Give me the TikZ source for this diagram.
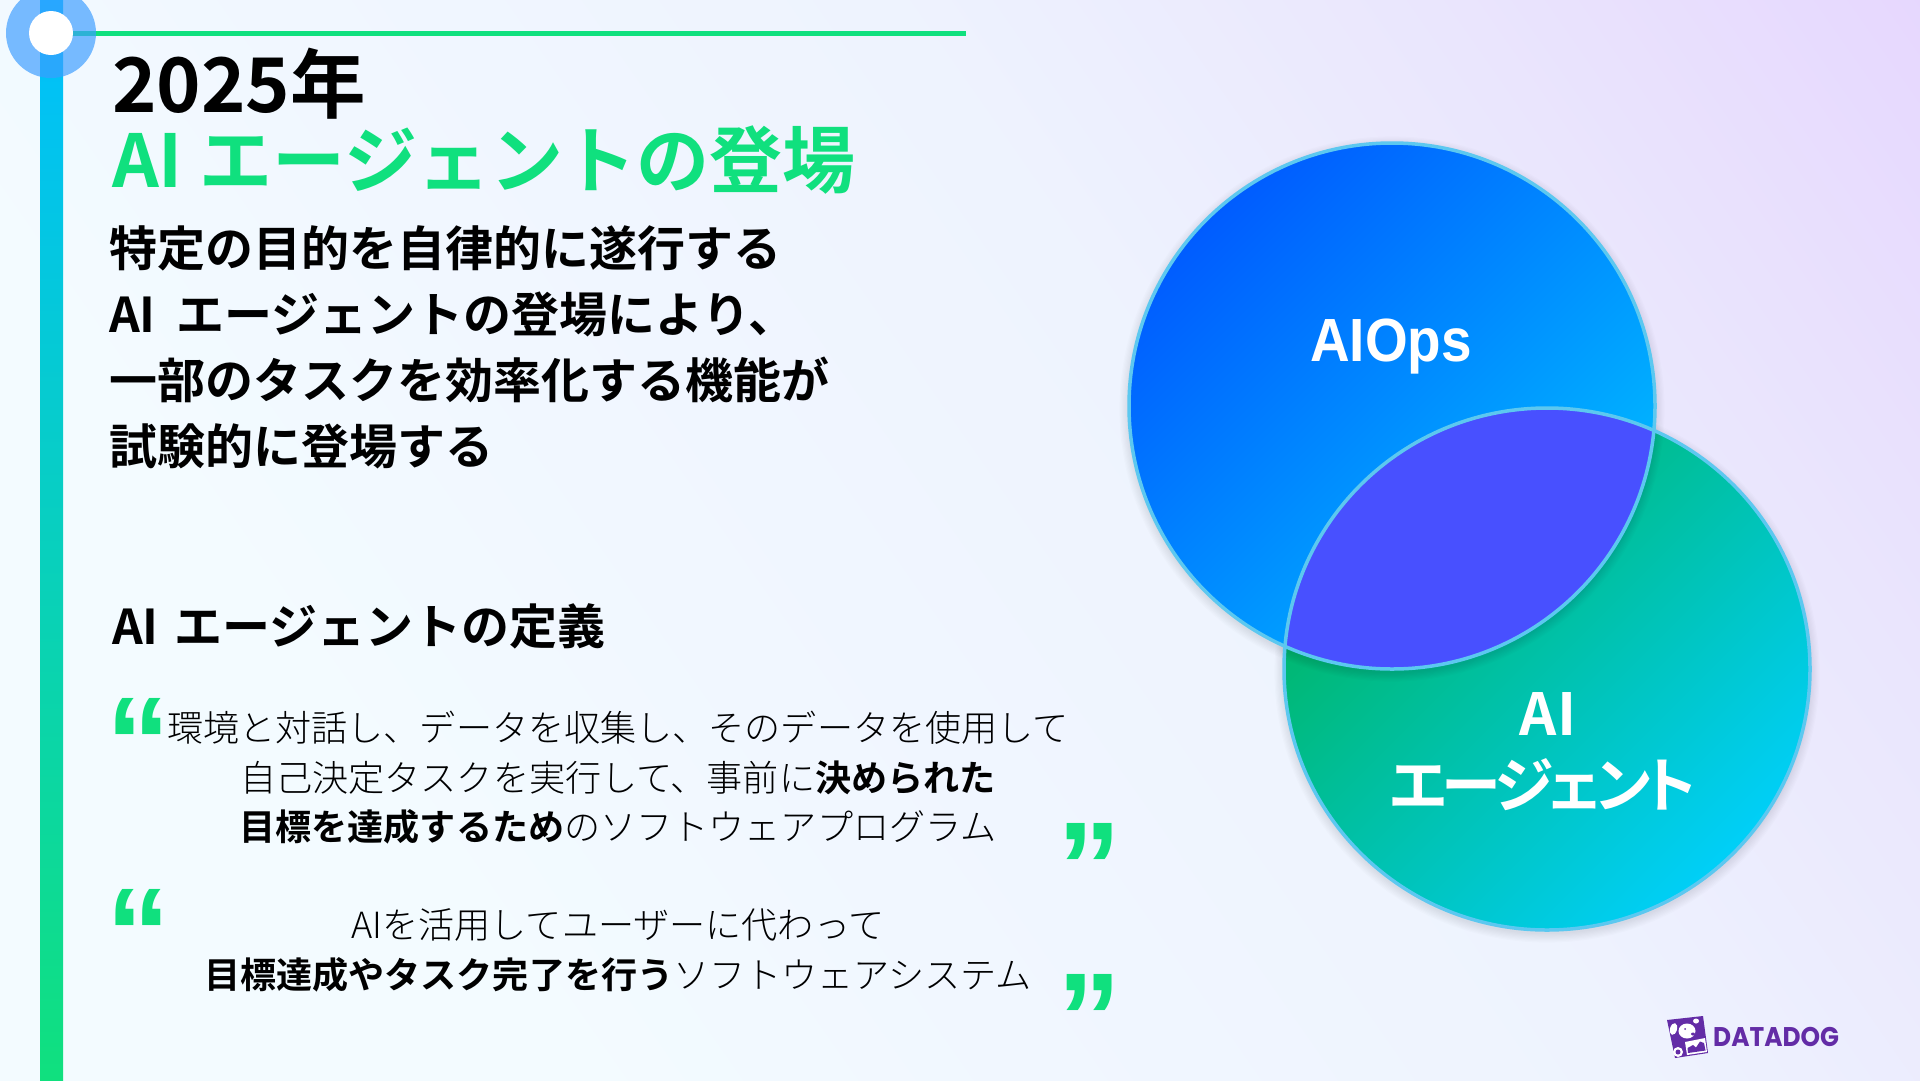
\documentclass[tikz,border=0pt]{standalone}
\usepackage{fontspec}
\setmainfont[BoldFont={Noto Sans CJK JP Bold}]{Noto Sans CJK JP Light}
\newfontfamily\circlefont[RawFeature=+palt,LetterSpace=-8]{Noto Sans CJK JP Bold}
\newfontfamily\opsfont[FakeStretch=0.9]{Liberation Sans}
\newfontfamily\quotefont{Liberation Sans}
\newfontfamily\logofont[FakeStretch=0.92]{Poppins}
\usetikzlibrary{positioning}

\definecolor{titlegreen}{HTML}{10E07E}
\definecolor{ringblue}{HTML}{3C9DFF}
\definecolor{rimblue}{HTML}{5CC8F0}
\definecolor{lensblue}{HTML}{4850FF}
\definecolor{dogpurple}{HTML}{632CA6}
\definecolor{azurelow}{HTML}{005CFF}
\definecolor{azurehigh}{HTML}{00BCFF}
\definecolor{agentlow}{HTML}{00B45F}
\definecolor{agenthigh}{HTML}{00CFF8}
\definecolor{barcyan}{HTML}{00BFFF}
\definecolor{pagepale}{HTML}{F3FBFF}
\definecolor{pagesoft}{HTML}{F1F7FF}
\definecolor{pagemid}{HTML}{EEF3FE}
\definecolor{pagelilac}{HTML}{EAE6FD}
\definecolor{pagecorner}{HTML}{E6D6FE}

\pgfdeclareverticalshading{barshade}{100bp}{color(0bp)=(titlegreen);color(25bp)=(titlegreen);color(75bp)=(barcyan);color(100bp)=(barcyan)}
\pgfdeclarehorizontalshading{pageshade}{100bp}{color(0bp)=(pagepale);color(30bp)=(pagepale);color(42bp)=(pagesoft);color(58bp)=(pagemid);color(72bp)=(pagelilac);color(86bp)=(pagecorner);color(100bp)=(pagecorner)}

\begin{document}
\begin{tikzpicture}[
                    x=1pt,
                    y=-1pt,
                    headline/.style={font=\bfseries\fontsize{73}{73}\selectfont, inner sep=0pt, anchor=west},
                    leadline/.style={font=\bfseries\fontsize{48}{48}\selectfont, inner sep=0pt, text width=800pt, align=left, text height=44pt, text depth=10pt},
                    quoteline/.style={font=\fontsize{36.1}{36.1}\selectfont, inner sep=0pt, text width=1000pt, align=center, text height=34pt, text depth=8pt},
                    quotemark/.style={font=\quotefont\bfseries\fontsize{128}{128}\selectfont, text=titlegreen, inner sep=0pt, anchor=base},
                    circlelabel/.style={text=white, inner sep=0pt},
                    node distance=66pt
                ]
                \useasboundingbox (0,0) rectangle (1920,1080);
                \path[shading=pageshade, shading angle=35] (0,0) rectangle (1920,1080);

                % timeline
                \path[shading=barshade] (40,0) rectangle (63,1080);
                \fill[titlegreen] (72,31) rectangle (966,35.5);
                \fill[ringblue, opacity=.68] (51,33) circle (45pt);
                \fill[white] (51,33) circle (22pt);

                % title
                \node[headline, font=\bfseries\fontsize{75.5}{75.5}\selectfont] (year) at (112,84) {2025年};
                \node[headline, text=titlegreen] (title) at (112,160) {AI エージェントの登場};

                % lead text
                \node[leadline] (lead-1) at (509,249) {特定の目的を自律的に遂行する};
                \node[leadline] (lead-2) [below of=lead-1] {AI\hspace{5pt} エージェントの登場により、};
                \node[leadline] (lead-3) [below of=lead-2] {一部のタスクを効率化する機能が};
                \node[leadline] (lead-4) [below of=lead-3] {試験的に登場する};
                \node[leadline] (define) at (512,627) {AI エージェントの定義};

                % quotes
                \node[quotemark] (open-1) at (138,786) {“};
                \node[quotemark] (close-1) at (1089,911) {”};
                \node[quotemark] (open-2) at (138,977) {“};
                \node[quotemark] (close-2) at (1089,1062) {”};
                \node[quoteline] (quote-1) at (618,728) {環境と対話し、データを収集し、そのデータを使用して};
                \node[quoteline, node distance=50pt] (quote-2) [below of=quote-1] {自己決定タスクを実行して、事前に\textbf{決められた}};
                \node[quoteline, node distance=49pt] (quote-3) [below of=quote-2] {\textbf{目標を達成するため}のソフトウェアプログラム};
                \node[quoteline] (quote-4) at (618,925) {AIを活用してユーザーに代わって};
                \node[quoteline, node distance=50pt] (quote-5) [below of=quote-4] {\textbf{目標達成やタスク完了を行う}ソフトウェアシステム};

                % venn
                \foreach \i in {1,...,8}
                    \fill[black, opacity=.012] (1547,672) ellipse (263pt+\i*1.2pt and 261pt+\i*1.2pt);
                \path[left color=agentlow, right color=agenthigh, shading angle=45] (1547,669) ellipse (263pt and 261pt);
                \foreach \i in {1,...,8}
                    \fill[black, opacity=.012] (1392,409) circle (263pt+\i*1.2pt);
                \path[left color=azurelow, right color=azurehigh, shading angle=45] (1392,406) circle (263pt);
                \begin{scope}
                    \clip (1392,406) circle (263pt);
                    \fill[lensblue] (1547,669) ellipse (263pt and 261pt);
                \end{scope}
                \draw[rimblue, line width=3.5pt] (1392,406) circle (263pt);
                \draw[rimblue, line width=3.5pt] (1547,669) ellipse (263pt and 261pt);
                \node[circlelabel, font=\opsfont\bfseries\fontsize{61}{61}\selectfont] (aiops) at (1391,347) {AIOps};
                \node[circlelabel, font=\bfseries\fontsize{58}{58}\selectfont] (ai) at (1548,714) {AI};
                \node[circlelabel, font=\circlefont\fontsize{60}{60}\selectfont] (agent) at (1543,785) {エージェント};

                % logo
                \fill[dogpurple] (1667,1020) -- (1703,1016) -- (1708,1053) -- (1675,1058) -- cycle;
                \fill[white] (1687,1031) ellipse (8.5pt and 7.5pt);
                \fill[white, rotate around={-15:(1673.5,1029)}] (1673.5,1029) ellipse (3.5pt and 6pt);
                \fill[white] (1696,1021) ellipse (3pt and 2.5pt);
                \fill[dogpurple] (1685,1029) circle (1pt);
                \fill[dogpurple] (1693,1034) ellipse (2pt and 1.5pt);
                \fill[white] (1678,1052) circle (5pt);
                \fill[dogpurple] (1678,1052) circle (2.5pt);
                \fill[white] (1685,1042) -- (1705,1038) -- (1707,1052) -- (1687,1055) -- cycle;
                \fill[dogpurple] (1688,1053) -- (1687.5,1048) -- (1693,1045) -- (1696,1047.5) -- (1700,1041.5) -- (1704,1043) -- (1705.5,1050.5) -- cycle;
                \node[inner sep=0pt, anchor=west, text=dogpurple, font=\logofont\bfseries\fontsize{27}{27}\selectfont] (logo) at (1713,1037) {DATADOG};
            \end{tikzpicture}
\end{document}
